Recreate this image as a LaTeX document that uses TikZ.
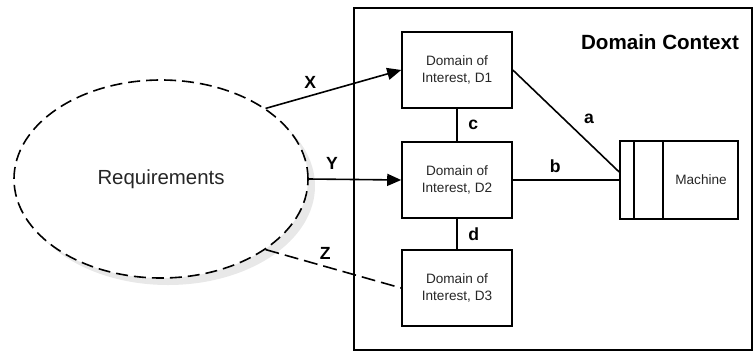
\documentclass[tikz,border=0pt]{standalone}
\usepackage{fontspec}
\setmainfont{Liberation Sans}
\usetikzlibrary{shapes.geometric,shadows,arrows.meta}

\begin{document}
\begin{tikzpicture}[
x=.5pt, y=-.5pt,
box/.style={draw, line width=.8pt, minimum width=55pt, minimum height=38pt, inner sep=0pt},
dom/.style={box, align=center, font=\fontsize{6.8}{8.4}\selectfont, text=black!85},
req/.style={ellipse, draw, dash pattern=on 6pt off 3pt, line width=.8pt, fill=white, minimum width=147pt, minimum height=99pt, inner sep=0pt, font=\fontsize{10.2}{12}\selectfont, text=black!85, drop shadow={shadow xshift=3.5pt, shadow yshift=-3.5pt, fill=gray!35, draw=none}},
lab/.style={font=\fontsize{8.8}{10}\selectfont\bfseries},
link/.style={line width=.8pt},
arr/.style={link, -{Triangle[length=7pt,width=6pt]}},
title/.style={font=\fontsize{10.3}{12}\selectfont\bfseries}
]

\useasboundingbox (0,0) rectangle (753,354);

%%% Domain Context
\draw[link] (354,8) rectangle (752,350);
\node[title] (ctx) at (660,42) {Domain Context};

\foreach \n/\y in {1/70, 2/180, 3/288}{
	\node[dom] (D\n) at (457,\y) {Domain of\\Interest, D\n};
}

%%% Machine
\node[box, minimum width=59pt, minimum height=39pt] (M) at (679,180) {};
\foreach \dx in {15,44}
	\draw[link] ([xshift=\dx*.5pt]M.north west) -- ([xshift=\dx*.5pt]M.south west);
\node[font=\fontsize{6.8}{8}\selectfont, text=black!85] (Mtxt) at (701,180) {Machine};

%%% Requirements
\node[req] (R) at (161,179) {Requirements};

%%% links
\draw[arr] (R.north east) -- node[lab, pos=.33, above]{X} (D1.west);
\draw[arr] (R.east) -- node[lab, pos=.25, above=1pt]{Y} (D2.west);
\draw[link, dash pattern=on 7pt off 3pt] (R.south east) -- node[lab, pos=.44, above]{Z} (D3.west);

\draw[link] (D1.east) -- node[lab, pos=.6, above right=0pt]{a} ([yshift=4pt]M.west);
\foreach \from/\to/\txt/\pos/\side/\dist in {
	D2.east/M.west/b/.4/above/0pt,
	D1.south/D2.north/c/.5/right/2pt,
	D2.south/D3.north/d/.5/right/2pt}{
	\draw[link] (\from) -- node[lab, pos=\pos, \side=\dist]{\txt} (\to);
}

\end{tikzpicture}
\end{document}
